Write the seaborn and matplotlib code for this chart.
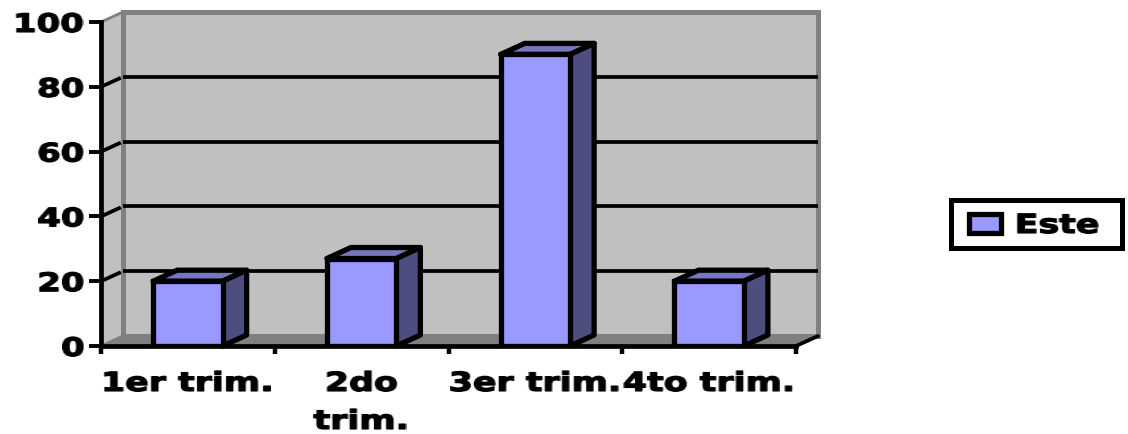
import matplotlib
matplotlib.use("Agg")
import matplotlib.pyplot as plt
import matplotlib.patheffects as pe
import numpy as np
import pandas as pd
import seaborn as sns
from matplotlib.patches import Polygon, Rectangle
from matplotlib.transforms import ScaledTranslation

categories = ["1er trim.", "2do\ntrim.", "3er trim.", "4to trim."]
values = [20, 27, 90, 20]
series_name = "Este"
y_ticks = [0, 20, 40, 60, 80, 100]

W, H = 1128, 434
DPI = 100
BAR = "#9999FF"
TOP = "#7777BF"
SIDE = "#4D4D80"
WALL = "#C0C0C0"
EDGE = "#808080"
STRETCH = 1.32
HEAVY = [pe.withStroke(linewidth=0.8, foreground="black")]


def widen(anchor):
    """Agg filter: the reference's text is stretched horizontally."""
    def flt(img, dpi):
        h, w = img.shape[:2]
        nw = int(round(w * STRETCH))
        xs = (np.arange(nw) + 0.5) / STRETCH - 0.5
        out = np.zeros((h, nw, img.shape[2]), dtype=img.dtype)
        for c in range(img.shape[2]):
            for r in range(h):
                out[r, :, c] = np.interp(xs, np.arange(w), img[r, :, c])
        ox = {"center": -(nw - w) // 2, "right": -(nw - w), "left": 0}[anchor]
        return out, ox, 0
    return flt


sns.set_theme(style="white")
plt.rcParams["font.family"] = ["DejaVu Sans"]
plt.rcParams["font.weight"] = "bold"

fig = plt.figure(figsize=(W / DPI, H / DPI), dpi=DPI)
ax = fig.add_axes([101 / W, 1 - 346 / H, 695 / W, 324 / H])
df = pd.DataFrame({"trim": categories, "v": values})
sns.barplot(data=df, x="trim", y="v", color=BAR, saturation=1, width=0.40,
            edgecolor="black", linewidth=3.8, ax=ax, zorder=5)
ax.set_xlim(-0.5, 3.5)
ax.set_ylim(0, 100)
ax.set_xlabel("")
ax.set_ylabel("")
ax.set_yticks(y_ticks)
ax.patch.set_alpha(0)
for s in ("top", "right"):
    ax.spines[s].set_visible(False)
for s in ("left", "bottom"):
    ax.spines[s].set_color("black")
    ax.spines[s].set_linewidth(3.4)
    ax.spines[s].set_zorder(4)

# tick marks at category boundaries, labels centred between them
ax.set_xticks([-0.5, 0.5, 1.5, 2.5, 3.5])
ax.set_xticklabels([])
ax.set_xticks(range(len(categories)), categories, minor=True)
ax.tick_params(axis="x", which="major", length=6, width=3.2, color="black", bottom=True)
ax.tick_params(axis="x", which="minor", length=0, pad=18, labelsize=19, bottom=False, labelcolor="black")
ax.tick_params(axis="y", length=9, width=2.8, color="black", left=True, pad=3, labelsize=18.5, labelcolor="black")
for t in ax.get_xticklabels(minor=True):
    t.set_fontweight("bold")
    t.set_linespacing(1.6)
    t.set_verticalalignment("top")
    t.set_agg_filter(widen("center"))
    t.set_path_effects(HEAVY)
for t in ax.get_yticklabels():
    t.set_fontweight("bold")
    t.set_agg_filter(widen("right"))
    t.set_path_effects(HEAVY)


def shifted(px, py):
    return ax.transData + ScaledTranslation(px / DPI, py / DPI, fig.dpi_scale_trans)


# pixel depth of the 3D wall and of the bars
WX, WY = 22, 10
BX, BY = 24, 11
PX = 695 / 4
PY = 324 / 100
wx, wy = WX / PX, WY / PY
back = shifted(WX, WY)
# floor
ax.add_patch(Polygon([(-0.5, 0), (3.5, 0), (3.5 + wx, wy), (-0.5 + wx, wy)],
                     closed=True, facecolor=EDGE, edgecolor="none", zorder=1, clip_on=False))
# side wall
ax.add_patch(Polygon([(-0.5, 0), (-0.5 + wx, wy), (-0.5 + wx, 100 + wy), (-0.5, 100)],
                     closed=True, facecolor=WALL, edgecolor=EDGE, linewidth=2, zorder=1.1, clip_on=False))
# back wall
ax.add_patch(Rectangle((-0.5, 0), 4, 100, transform=back, facecolor=WALL, edgecolor=EDGE,
                       linewidth=3.6, zorder=1.2, clip_on=False))
# gridlines on wall and side wall
for v in y_ticks[1:-1]:
    ax.plot([-0.5, 3.5], [v, v], transform=back, color="black", lw=2.7, zorder=2,
            clip_on=False, solid_capstyle="butt")
    ax.plot([-0.5, -0.5 + wx * 0.9], [v, v + wy * 0.9], color="black", lw=2.7, zorder=2,
            clip_on=False, solid_capstyle="butt")
# right floor edge
ax.plot([3.5, 3.5 + wx], [0, wy], color="black", lw=2.7, zorder=3, clip_on=False)

# 3D faces of the bars
dx, dy = BX / PX, BY / PY
for p in ax.patches[:len(values)]:
    x0, w, h = p.get_x(), p.get_width(), p.get_height()
    x1 = x0 + w
    ax.add_patch(Polygon([(x0, h), (x1, h), (x1 + dx, h + dy), (x0 + dx, h + dy)], closed=True,
                         facecolor=TOP, edgecolor="black", linewidth=3.8, joinstyle="round",
                         zorder=4.6, clip_on=False))
    ax.add_patch(Polygon([(x1, 0), (x1 + dx, dy), (x1 + dx, h + dy), (x1, h)], closed=True,
                         facecolor=SIDE, edgecolor="black", linewidth=3.8, joinstyle="round",
                         zorder=4.7, clip_on=False))

# legend
fig.add_artist(Rectangle((951 / W, 1 - 247.5 / H), 171 / W, 48 / H, transform=fig.transFigure,
                         facecolor="white", edgecolor="black", linewidth=3.6))
fig.add_artist(Rectangle((969 / W, 1 - 232.5 / H), 32 / W, 18 / H, transform=fig.transFigure,
                         facecolor=BAR, edgecolor="black", linewidth=3.8))
fig.text(1015 / W, 1 - 226 / H, series_name, fontsize=19, fontweight="bold", color="black",
         va="center", ha="left", agg_filter=widen("left"), path_effects=HEAVY)

fig.savefig("out.png", dpi=DPI)
